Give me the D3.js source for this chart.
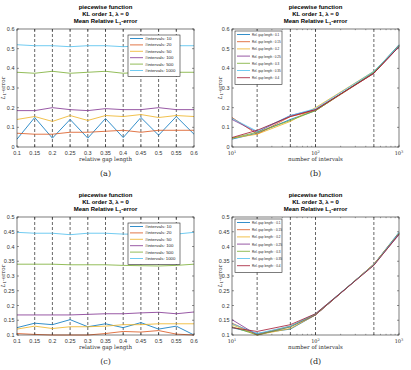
<!DOCTYPE html>
<html>
<head>
<meta charset="utf-8">
<script src="https://cdn.jsdelivr.net/npm/d3@7"></script>
<style>
  body { margin: 0; background: #fff; }
  svg { display: block; }
  .tick-label { font-family: "Liberation Sans", Arial, sans-serif; font-size: 5.5px; fill: #333; }
  .title { font-family: "Liberation Sans", Arial, sans-serif; font-size: 6px; font-weight: bold; fill: #000; }
  .latex { font-family: "DejaVu Serif", "Liberation Serif", serif; fill: #262626; }
  .legend-text { font-family: "Liberation Sans", Arial, sans-serif; font-size: 4.4px; fill: #222; }
</style>
</head>
<body>
<div id="chart"></div>
<script>
// data
var gapLengths = [0.1, 0.15, 0.2, 0.25, 0.3, 0.35, 0.4, 0.45, 0.5, 0.55, 0.6]
var intervals = [10, 20, 50, 100, 500, 1000]
var colors = ['#0072BD', '#D95319', '#EDB120', '#7E2F8E', '#77AC30', '#4DBEEE', '#A2142F']

// KL order 1: one row per number of intervals, one value per gap length
var errOrder1 = [
  [0.040, 0.150, 0.045, 0.140, 0.045, 0.145, 0.048, 0.150, 0.060, 0.155, 0.065],
  [0.070, 0.065, 0.065, 0.075, 0.075, 0.080, 0.085, 0.075, 0.085, 0.085, 0.085],
  [0.140, 0.155, 0.130, 0.160, 0.135, 0.160, 0.155, 0.165, 0.150, 0.160, 0.155],
  [0.185, 0.185, 0.200, 0.190, 0.185, 0.195, 0.190, 0.190, 0.200, 0.190, 0.190],
  [0.380, 0.375, 0.385, 0.375, 0.380, 0.385, 0.375, 0.380, 0.375, 0.380, 0.380],
  [0.520, 0.515, 0.515, 0.510, 0.515, 0.515, 0.510, 0.515, 0.520, 0.515, 0.515]
]

// KL order 3
var errOrder3 = [
  [0.125, 0.140, 0.135, 0.152, 0.128, 0.138, 0.125, 0.142, 0.120, 0.130, 0.100],
  [0.105, 0.102, 0.100, 0.100, 0.100, 0.105, 0.112, 0.110, 0.115, 0.103, 0.100],
  [0.120, 0.130, 0.122, 0.128, 0.128, 0.130, 0.135, 0.135, 0.138, 0.138, 0.138],
  [0.168, 0.168, 0.168, 0.168, 0.170, 0.172, 0.172, 0.175, 0.177, 0.172, 0.178],
  [0.340, 0.340, 0.340, 0.338, 0.338, 0.338, 0.336, 0.335, 0.334, 0.336, 0.340],
  [0.448, 0.445, 0.445, 0.440, 0.445, 0.445, 0.442, 0.442, 0.445, 0.442, 0.448]
]

var width = 411, height = 370

var svg = d3.select("#chart")
  .append("svg")
  .attr("width", width)
  .attr("height", height)

var fmt = d => String(+d.toFixed(2))

// panel frames, in pixels
var panels = [
  { label: '(a)', order: 1, kind: 'gap', data: errOrder1, left: 17, right: 194, top: 29, bottom: 147, yMin: 0, yMax: 0.6, yStep: 0.1 },
  { label: '(b)', order: 1, kind: 'int', data: errOrder1, left: 232, right: 399, top: 29, bottom: 147, yMin: 0, yMax: 0.6, yStep: 0.1 },
  { label: '(c)', order: 3, kind: 'gap', data: errOrder3, left: 17, right: 194, top: 217, bottom: 335, yMin: 0.1, yMax: 0.5, yStep: 0.05 },
  { label: '(d)', order: 3, kind: 'int', data: errOrder3, left: 232, right: 399, top: 217, bottom: 335, yMin: 0.1, yMax: 0.5, yStep: 0.05 }
]

panels.forEach(function(p) {
  var g = svg.append("g")
  var cx = (p.left + p.right) / 2

  var yScale = d3.scaleLinear().domain([p.yMin, p.yMax]).range([p.bottom, p.top])
  var xScale
  if (p.kind == 'gap') {
    xScale = d3.scaleLinear().domain([0.1, 0.6]).range([p.left, p.right])
  } else {
    xScale = d3.scaleLog().domain([10, 1000]).range([p.left, p.right])
  }

  // dashed verticals
  var dashX = p.kind == 'gap' ? gapLengths.slice(1, -1) : [20, 50, 100, 500]
  g.selectAll(".dash")
    .data(dashX)
    .enter()
    .append("line")
    .attr("x1", d => xScale(d))
    .attr("x2", d => xScale(d))
    .attr("y1", p.top)
    .attr("y2", p.bottom)
    .style("stroke", "#000")
    .style("stroke-width", 0.6)
    .style("stroke-dasharray", "3,2")

  // y ticks
  var yTicks = d3.range(p.yMin, p.yMax + 1e-9, p.yStep)
  yTicks.forEach(function(t) {
    var y = yScale(t)
    g.append("line").attr("x1", p.left).attr("x2", p.left + 2).attr("y1", y).attr("y2", y)
      .style("stroke", "#262626").style("stroke-width", 0.5)
    g.append("line").attr("x1", p.right).attr("x2", p.right - 2).attr("y1", y).attr("y2", y)
      .style("stroke", "#262626").style("stroke-width", 0.5)
    g.append("text").attr("class", "tick-label")
      .attr("x", p.left - 2.5).attr("y", y + 2)
      .attr("text-anchor", "end")
      .text(fmt(t))
  })

  // x ticks
  if (p.kind == 'gap') {
    gapLengths.forEach(function(t) {
      var x = xScale(t)
      g.append("line").attr("x1", x).attr("x2", x).attr("y1", p.bottom).attr("y2", p.bottom - 2)
        .style("stroke", "#262626").style("stroke-width", 0.5)
      g.append("line").attr("x1", x).attr("x2", x).attr("y1", p.top).attr("y2", p.top + 2)
        .style("stroke", "#262626").style("stroke-width", 0.5)
      g.append("text").attr("class", "tick-label")
        .attr("x", x).attr("y", p.bottom + 7.5)
        .attr("text-anchor", "middle")
        .text(fmt(t))
    })
  } else {
    var minor = []
    for (var dec = 10; dec < 1000; dec *= 10) {
      for (var k = 2; k < 10; k++) minor.push(dec * k)
    }
    minor.forEach(function(t) {
      var x = xScale(t)
      g.append("line").attr("x1", x).attr("x2", x).attr("y1", p.bottom).attr("y2", p.bottom - 1.2)
        .style("stroke", "#262626").style("stroke-width", 0.4)
      g.append("line").attr("x1", x).attr("x2", x).attr("y1", p.top).attr("y2", p.top + 1.2)
        .style("stroke", "#262626").style("stroke-width", 0.4)
    })
    ;[10, 100, 1000].forEach(function(t, i) {
      var x = xScale(t)
      g.append("line").attr("x1", x).attr("x2", x).attr("y1", p.bottom).attr("y2", p.bottom - 2.2)
        .style("stroke", "#262626").style("stroke-width", 0.5)
      g.append("line").attr("x1", x).attr("x2", x).attr("y1", p.top).attr("y2", p.top + 2.2)
        .style("stroke", "#262626").style("stroke-width", 0.5)
      var tx = g.append("text").attr("class", "latex")
        .attr("x", x).attr("y", p.bottom + 8)
        .attr("text-anchor", "middle")
        .style("font-size", "5px")
      tx.append("tspan").text("10")
      tx.append("tspan").attr("dy", -2).style("font-size", "3.5px").text(i + 1)
    })
  }

  // series
  var line = d3.line()
    .x(d => xScale(d[0]))
    .y(d => yScale(d[1]))

  var series
  if (p.kind == 'gap') {
    series = p.data.map((row, i) => ({
      name: '#intervals: ' + intervals[i],
      color: colors[i],
      pts: row.map((v, j) => [gapLengths[j], v])
    }))
  } else {
    series = gapLengths.slice(0, 7).map((gl, j) => ({
      name: (p.order == 1 ? 'Rel. gap length : ' : 'Rel. gap length: : ') + gl,
      color: colors[j],
      pts: intervals.map((n, i) => [n, p.data[i][j]])
    }))
  }

  g.selectAll(".series")
    .data(series)
    .enter()
    .append("path")
    .attr("d", d => line(d.pts))
    .style("fill", "none")
    .style("stroke", d => d.color)
    .style("stroke-width", 0.8)

  // box
  g.append("rect")
    .attr("x", p.left).attr("y", p.top)
    .attr("width", p.right - p.left).attr("height", p.bottom - p.top)
    .style("fill", "none")
    .style("stroke", "#262626")
    .style("stroke-width", 0.6)

  // legend
  var lg = p.kind == 'gap'
    ? { x: 128, w: 52, y: p.top + 6, rowH: 6.4, textW: 1.9 }
    : { x: p.left + 3, w: 47, y: p.top + 2, rowH: 7.2, textW: 1.3 }
  var lh = series.length * lg.rowH + 3
  g.append("rect")
    .attr("x", lg.x).attr("y", lg.y)
    .attr("width", lg.w).attr("height", lh)
    .style("fill", "#fff")
    .style("stroke", "#262626")
    .style("stroke-width", 0.6)
  series.forEach(function(s, i) {
    var ry = lg.y + 3.5 + lg.rowH * i
    g.append("line")
      .attr("x1", lg.x + 2).attr("x2", lg.x + 15)
      .attr("y1", ry).attr("y2", ry)
      .style("stroke", s.color)
      .style("stroke-width", 0.8)
    g.append("text").attr("class", "legend-text")
      .attr("x", lg.x + 17).attr("y", ry + 1.5)
      .attr("textLength", s.name.length * lg.textW)
      .attr("lengthAdjust", "spacingAndGlyphs")
      .text(s.name)
  })

  // titles
  g.append("text").attr("class", "title").attr("x", cx).attr("y", p.top - 20)
    .attr("text-anchor", "middle")
    .text("piecewise function")
  g.append("text").attr("class", "title").attr("x", cx).attr("y", p.top - 13)
    .attr("text-anchor", "middle")
    .text("KL order " + p.order + ", \u03bb = 0")
  var t3 = g.append("text").attr("class", "title").attr("x", cx).attr("y", p.top - 6)
    .attr("text-anchor", "middle")
  t3.append("tspan").text("Mean Relative L")
  t3.append("tspan").attr("dy", 1.5).style("font-size", "4px").text("1")
  t3.append("tspan").attr("dy", -1.5).text("-error")

  // axis labels
  g.append("text").attr("class", "latex")
    .attr("x", cx).attr("y", p.bottom + 14)
    .attr("text-anchor", "middle")
    .style("font-size", "5.5px")
    .text(p.kind == 'gap' ? 'relative gap length' : 'number of intervals')

  var ylx = p.kind == 'gap' ? p.left - 12 : p.left - 10
  var yl = g.append("text").attr("class", "latex")
    .attr("transform", `translate(${ylx},${(p.top + p.bottom) / 2}) rotate(-90)`)
    .attr("text-anchor", "middle")
    .style("font-size", "5.5px")
  yl.append("tspan").style("font-style", "italic").text("L")
  yl.append("tspan").attr("dy", 1.2).style("font-size", "4px").text("1")
  yl.append("tspan").attr("dy", -1.2).text("-error")

  g.append("text").attr("class", "latex")
    .attr("x", cx).attr("y", p.bottom + 29)
    .attr("text-anchor", "middle")
    .style("font-size", "8px")
    .text(p.label)
})
</script>
</body>
</html>
